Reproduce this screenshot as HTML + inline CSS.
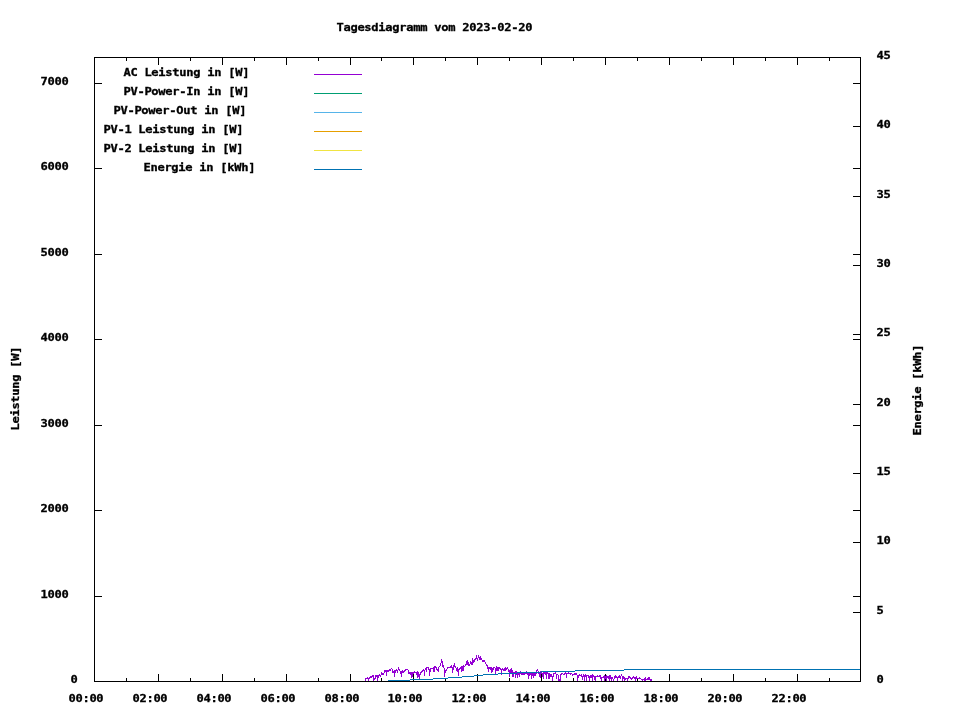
<!DOCTYPE html>
<html lang="de"><head><meta charset="utf-8"><title>Tagesdiagramm vom 2023-02-20</title>
<style>
html,body{margin:0;padding:0;background:#fff;}
svg{display:block;width:960px;height:720px;}
text{font-family:"DejaVu Sans Mono", "Liberation Mono", monospace;font-weight:bold;font-size:11.0px;letter-spacing:-0.255px;fill:#000;stroke:#000;stroke-width:0.3px;white-space:pre;}
</style></head><body>
<svg width="960" height="720" viewBox="0 0 960 720">
<rect x="0" y="0" width="960" height="720" fill="#fff"/>
<g shape-rendering="crispEdges">
<rect x="94" y="57" width="767" height="1" fill="#000"/>
<rect x="94" y="681" width="767" height="1" fill="#000"/>
<rect x="94" y="57" width="1" height="625" fill="#000"/>
<rect x="860" y="57" width="1" height="625" fill="#000"/>
<rect x="126" y="678" width="1" height="4" fill="#000"/>
<rect x="126" y="57" width="1" height="4" fill="#000"/>
<rect x="158" y="674" width="1" height="8" fill="#000"/>
<rect x="158" y="57" width="1" height="8" fill="#000"/>
<rect x="190" y="678" width="1" height="4" fill="#000"/>
<rect x="190" y="57" width="1" height="4" fill="#000"/>
<rect x="222" y="674" width="1" height="8" fill="#000"/>
<rect x="222" y="57" width="1" height="8" fill="#000"/>
<rect x="254" y="678" width="1" height="4" fill="#000"/>
<rect x="254" y="57" width="1" height="4" fill="#000"/>
<rect x="286" y="674" width="1" height="8" fill="#000"/>
<rect x="286" y="57" width="1" height="8" fill="#000"/>
<rect x="318" y="678" width="1" height="4" fill="#000"/>
<rect x="318" y="57" width="1" height="4" fill="#000"/>
<rect x="350" y="674" width="1" height="8" fill="#000"/>
<rect x="350" y="57" width="1" height="8" fill="#000"/>
<rect x="381" y="678" width="1" height="4" fill="#000"/>
<rect x="381" y="57" width="1" height="4" fill="#000"/>
<rect x="413" y="674" width="1" height="8" fill="#000"/>
<rect x="413" y="57" width="1" height="8" fill="#000"/>
<rect x="445" y="678" width="1" height="4" fill="#000"/>
<rect x="445" y="57" width="1" height="4" fill="#000"/>
<rect x="477" y="674" width="1" height="8" fill="#000"/>
<rect x="477" y="57" width="1" height="8" fill="#000"/>
<rect x="509" y="678" width="1" height="4" fill="#000"/>
<rect x="509" y="57" width="1" height="4" fill="#000"/>
<rect x="541" y="674" width="1" height="8" fill="#000"/>
<rect x="541" y="57" width="1" height="8" fill="#000"/>
<rect x="573" y="678" width="1" height="4" fill="#000"/>
<rect x="573" y="57" width="1" height="4" fill="#000"/>
<rect x="605" y="674" width="1" height="8" fill="#000"/>
<rect x="605" y="57" width="1" height="8" fill="#000"/>
<rect x="637" y="678" width="1" height="4" fill="#000"/>
<rect x="637" y="57" width="1" height="4" fill="#000"/>
<rect x="669" y="674" width="1" height="8" fill="#000"/>
<rect x="669" y="57" width="1" height="8" fill="#000"/>
<rect x="701" y="678" width="1" height="4" fill="#000"/>
<rect x="701" y="57" width="1" height="4" fill="#000"/>
<rect x="733" y="674" width="1" height="8" fill="#000"/>
<rect x="733" y="57" width="1" height="8" fill="#000"/>
<rect x="765" y="678" width="1" height="4" fill="#000"/>
<rect x="765" y="57" width="1" height="4" fill="#000"/>
<rect x="797" y="674" width="1" height="8" fill="#000"/>
<rect x="797" y="57" width="1" height="8" fill="#000"/>
<rect x="829" y="678" width="1" height="4" fill="#000"/>
<rect x="829" y="57" width="1" height="4" fill="#000"/>
<rect x="94" y="681" width="8" height="1" fill="#000"/>
<rect x="853" y="681" width="8" height="1" fill="#000"/>
<rect x="94" y="596" width="8" height="1" fill="#000"/>
<rect x="853" y="596" width="8" height="1" fill="#000"/>
<rect x="94" y="510" width="8" height="1" fill="#000"/>
<rect x="853" y="510" width="8" height="1" fill="#000"/>
<rect x="94" y="425" width="8" height="1" fill="#000"/>
<rect x="853" y="425" width="8" height="1" fill="#000"/>
<rect x="94" y="339" width="8" height="1" fill="#000"/>
<rect x="853" y="339" width="8" height="1" fill="#000"/>
<rect x="94" y="254" width="8" height="1" fill="#000"/>
<rect x="853" y="254" width="8" height="1" fill="#000"/>
<rect x="94" y="168" width="8" height="1" fill="#000"/>
<rect x="853" y="168" width="8" height="1" fill="#000"/>
<rect x="94" y="83" width="8" height="1" fill="#000"/>
<rect x="853" y="83" width="8" height="1" fill="#000"/>
<rect x="853" y="681" width="8" height="1" fill="#000"/>
<rect x="853" y="612" width="8" height="1" fill="#000"/>
<rect x="853" y="542" width="8" height="1" fill="#000"/>
<rect x="853" y="473" width="8" height="1" fill="#000"/>
<rect x="853" y="404" width="8" height="1" fill="#000"/>
<rect x="853" y="334" width="8" height="1" fill="#000"/>
<rect x="853" y="265" width="8" height="1" fill="#000"/>
<rect x="853" y="196" width="8" height="1" fill="#000"/>
<rect x="853" y="126" width="8" height="1" fill="#000"/>
<rect x="853" y="57" width="8" height="1" fill="#000"/>
<rect x="314" y="74" width="48" height="1" fill="#9400d3"/>
<rect x="314" y="93" width="48" height="1" fill="#009e73"/>
<rect x="314" y="112" width="48" height="1" fill="#56b4e9"/>
<rect x="314" y="131" width="48" height="1" fill="#e69f00"/>
<rect x="314" y="150" width="48" height="1" fill="#f0e442"/>
<rect x="314" y="169" width="48" height="1" fill="#0072b2"/>
</g>
<g shape-rendering="crispEdges" fill="#9400d3">
<rect x="365" y="678" width="1" height="3"/>
<rect x="366" y="678" width="1" height="1"/>
<rect x="367" y="677" width="1" height="2"/>
<rect x="368" y="678" width="1" height="3"/>
<rect x="369" y="677" width="1" height="2"/>
<rect x="370" y="676" width="1" height="2"/>
<rect x="371" y="676" width="1" height="2"/>
<rect x="372" y="675" width="1" height="2"/>
<rect x="373" y="675" width="1" height="6"/>
<rect x="374" y="678" width="1" height="2"/>
<rect x="375" y="675" width="1" height="4"/>
<rect x="376" y="675" width="1" height="2"/>
<rect x="377" y="675" width="1" height="6"/>
<rect x="378" y="675" width="1" height="3"/>
<rect x="379" y="674" width="1" height="2"/>
<rect x="380" y="675" width="1" height="2"/>
<rect x="381" y="672" width="1" height="3"/>
<rect x="382" y="673" width="1" height="2"/>
<rect x="383" y="673" width="1" height="2"/>
<rect x="384" y="670" width="1" height="3"/>
<rect x="385" y="670" width="1" height="2"/>
<rect x="386" y="670" width="1" height="6"/>
<rect x="387" y="670" width="1" height="2"/>
<rect x="388" y="670" width="1" height="2"/>
<rect x="389" y="669" width="1" height="2"/>
<rect x="390" y="669" width="1" height="2"/>
<rect x="391" y="668" width="1" height="1"/>
<rect x="392" y="669" width="1" height="4"/>
<rect x="393" y="671" width="1" height="2"/>
<rect x="394" y="670" width="1" height="7"/>
<rect x="395" y="670" width="1" height="3"/>
<rect x="396" y="669" width="1" height="2"/>
<rect x="397" y="670" width="1" height="3"/>
<rect x="398" y="667" width="1" height="3"/>
<rect x="399" y="669" width="1" height="2"/>
<rect x="400" y="671" width="1" height="3"/>
<rect x="401" y="671" width="1" height="6"/>
<rect x="402" y="670" width="1" height="3"/>
<rect x="403" y="671" width="1" height="2"/>
<rect x="404" y="670" width="1" height="2"/>
<rect x="405" y="669" width="1" height="2"/>
<rect x="406" y="669" width="1" height="1"/>
<rect x="407" y="669" width="1" height="1"/>
<rect x="408" y="670" width="1" height="4"/>
<rect x="409" y="672" width="1" height="2"/>
<rect x="410" y="672" width="1" height="3"/>
<rect x="411" y="672" width="1" height="6"/>
<rect x="412" y="672" width="1" height="5"/>
<rect x="413" y="672" width="1" height="2"/>
<rect x="414" y="671" width="1" height="2"/>
<rect x="415" y="672" width="1" height="1"/>
<rect x="416" y="672" width="1" height="3"/>
<rect x="417" y="671" width="1" height="7"/>
<rect x="418" y="672" width="1" height="5"/>
<rect x="419" y="674" width="1" height="5"/>
<rect x="420" y="672" width="1" height="3"/>
<rect x="421" y="671" width="1" height="2"/>
<rect x="422" y="670" width="1" height="2"/>
<rect x="423" y="669" width="1" height="2"/>
<rect x="424" y="670" width="1" height="6"/>
<rect x="425" y="668" width="1" height="2"/>
<rect x="426" y="667" width="1" height="5"/>
<rect x="427" y="667" width="1" height="1"/>
<rect x="428" y="667" width="1" height="3"/>
<rect x="429" y="669" width="1" height="7"/>
<rect x="430" y="668" width="1" height="4"/>
<rect x="431" y="668" width="1" height="1"/>
<rect x="432" y="668" width="1" height="1"/>
<rect x="433" y="667" width="1" height="5"/>
<rect x="434" y="666" width="1" height="6"/>
<rect x="435" y="666" width="1" height="2"/>
<rect x="436" y="667" width="1" height="3"/>
<rect x="437" y="669" width="1" height="2"/>
<rect x="438" y="667" width="1" height="5"/>
<rect x="439" y="666" width="1" height="1"/>
<rect x="440" y="663" width="1" height="3"/>
<rect x="441" y="659" width="1" height="4"/>
<rect x="442" y="661" width="1" height="6"/>
<rect x="443" y="665" width="1" height="3"/>
<rect x="444" y="668" width="1" height="9"/>
<rect x="445" y="670" width="1" height="3"/>
<rect x="446" y="669" width="1" height="2"/>
<rect x="447" y="667" width="1" height="2"/>
<rect x="448" y="667" width="1" height="1"/>
<rect x="449" y="667" width="1" height="1"/>
<rect x="450" y="666" width="1" height="2"/>
<rect x="451" y="665" width="1" height="3"/>
<rect x="452" y="667" width="1" height="6"/>
<rect x="453" y="665" width="1" height="5"/>
<rect x="454" y="663" width="1" height="4"/>
<rect x="455" y="666" width="1" height="2"/>
<rect x="456" y="668" width="1" height="3"/>
<rect x="457" y="667" width="1" height="5"/>
<rect x="458" y="669" width="1" height="7"/>
<rect x="459" y="668" width="1" height="2"/>
<rect x="460" y="667" width="1" height="2"/>
<rect x="461" y="666" width="1" height="6"/>
<rect x="462" y="666" width="1" height="5"/>
<rect x="463" y="665" width="1" height="6"/>
<rect x="464" y="666" width="1" height="1"/>
<rect x="465" y="664" width="1" height="2"/>
<rect x="466" y="661" width="1" height="4"/>
<rect x="467" y="660" width="1" height="5"/>
<rect x="468" y="662" width="1" height="4"/>
<rect x="469" y="664" width="1" height="2"/>
<rect x="470" y="661" width="1" height="3"/>
<rect x="471" y="662" width="1" height="3"/>
<rect x="472" y="658" width="1" height="7"/>
<rect x="473" y="660" width="1" height="3"/>
<rect x="474" y="659" width="1" height="3"/>
<rect x="475" y="658" width="1" height="2"/>
<rect x="476" y="655" width="1" height="4"/>
<rect x="477" y="658" width="1" height="3"/>
<rect x="478" y="655" width="1" height="3"/>
<rect x="479" y="657" width="1" height="3"/>
<rect x="480" y="656" width="1" height="4"/>
<rect x="481" y="658" width="1" height="2"/>
<rect x="482" y="660" width="1" height="2"/>
<rect x="483" y="660" width="1" height="2"/>
<rect x="484" y="660" width="1" height="2"/>
<rect x="485" y="662" width="1" height="2"/>
<rect x="486" y="664" width="1" height="2"/>
<rect x="487" y="665" width="1" height="4"/>
<rect x="488" y="667" width="1" height="5"/>
<rect x="489" y="667" width="1" height="2"/>
<rect x="490" y="667" width="1" height="3"/>
<rect x="491" y="667" width="1" height="6"/>
<rect x="492" y="668" width="1" height="4"/>
<rect x="493" y="667" width="1" height="3"/>
<rect x="494" y="667" width="1" height="1"/>
<rect x="495" y="668" width="1" height="6"/>
<rect x="496" y="666" width="1" height="5"/>
<rect x="497" y="667" width="1" height="4"/>
<rect x="498" y="667" width="1" height="4"/>
<rect x="499" y="667" width="1" height="2"/>
<rect x="500" y="668" width="1" height="2"/>
<rect x="501" y="669" width="1" height="6"/>
<rect x="502" y="668" width="1" height="2"/>
<rect x="503" y="669" width="1" height="2"/>
<rect x="504" y="668" width="1" height="3"/>
<rect x="505" y="667" width="1" height="4"/>
<rect x="506" y="668" width="1" height="2"/>
<rect x="507" y="667" width="1" height="2"/>
<rect x="508" y="669" width="1" height="3"/>
<rect x="509" y="670" width="1" height="7"/>
<rect x="510" y="669" width="1" height="4"/>
<rect x="511" y="668" width="1" height="5"/>
<rect x="512" y="670" width="1" height="7"/>
<rect x="513" y="672" width="1" height="5"/>
<rect x="514" y="672" width="1" height="2"/>
<rect x="515" y="671" width="1" height="7"/>
<rect x="516" y="671" width="1" height="4"/>
<rect x="517" y="673" width="1" height="5"/>
<rect x="518" y="673" width="1" height="2"/>
<rect x="519" y="673" width="1" height="4"/>
<rect x="520" y="671" width="1" height="3"/>
<rect x="521" y="673" width="1" height="2"/>
<rect x="522" y="672" width="1" height="3"/>
<rect x="523" y="672" width="1" height="3"/>
<rect x="524" y="673" width="1" height="2"/>
<rect x="525" y="673" width="1" height="1"/>
<rect x="526" y="671" width="1" height="3"/>
<rect x="527" y="673" width="1" height="2"/>
<rect x="528" y="673" width="1" height="6"/>
<rect x="529" y="673" width="1" height="3"/>
<rect x="530" y="673" width="1" height="2"/>
<rect x="531" y="673" width="1" height="6"/>
<rect x="532" y="673" width="1" height="3"/>
<rect x="533" y="673" width="1" height="5"/>
<rect x="534" y="673" width="1" height="3"/>
<rect x="535" y="673" width="1" height="3"/>
<rect x="536" y="670" width="1" height="4"/>
<rect x="537" y="669" width="1" height="2"/>
<rect x="538" y="671" width="1" height="3"/>
<rect x="539" y="673" width="1" height="4"/>
<rect x="540" y="671" width="1" height="7"/>
<rect x="541" y="672" width="1" height="2"/>
<rect x="542" y="673" width="1" height="4"/>
<rect x="543" y="672" width="1" height="7"/>
<rect x="544" y="672" width="1" height="2"/>
<rect x="545" y="672" width="1" height="3"/>
<rect x="546" y="672" width="1" height="7"/>
<rect x="547" y="672" width="1" height="2"/>
<rect x="548" y="673" width="1" height="6"/>
<rect x="549" y="673" width="1" height="6"/>
<rect x="550" y="674" width="1" height="3"/>
<rect x="551" y="674" width="1" height="3"/>
<rect x="552" y="676" width="1" height="5"/>
<rect x="553" y="673" width="1" height="4"/>
<rect x="554" y="673" width="1" height="1"/>
<rect x="555" y="672" width="1" height="2"/>
<rect x="556" y="674" width="1" height="5"/>
<rect x="557" y="674" width="1" height="1"/>
<rect x="558" y="675" width="1" height="6"/>
<rect x="559" y="679" width="1" height="2"/>
<rect x="560" y="674" width="1" height="7"/>
<rect x="561" y="673" width="1" height="2"/>
<rect x="562" y="673" width="1" height="1"/>
<rect x="563" y="674" width="1" height="1"/>
<rect x="564" y="673" width="1" height="2"/>
<rect x="565" y="672" width="1" height="2"/>
<rect x="566" y="673" width="1" height="5"/>
<rect x="567" y="673" width="1" height="1"/>
<rect x="568" y="672" width="1" height="2"/>
<rect x="569" y="673" width="1" height="1"/>
<rect x="570" y="673" width="1" height="2"/>
<rect x="571" y="673" width="1" height="1"/>
<rect x="572" y="674" width="1" height="2"/>
<rect x="573" y="674" width="1" height="1"/>
<rect x="574" y="673" width="1" height="2"/>
<rect x="575" y="673" width="1" height="2"/>
<rect x="576" y="673" width="1" height="2"/>
<rect x="577" y="675" width="1" height="6"/>
<rect x="578" y="675" width="1" height="3"/>
<rect x="579" y="674" width="1" height="2"/>
<rect x="580" y="675" width="1" height="1"/>
<rect x="581" y="674" width="1" height="3"/>
<rect x="582" y="676" width="1" height="4"/>
<rect x="583" y="674" width="1" height="3"/>
<rect x="584" y="675" width="1" height="6"/>
<rect x="585" y="674" width="1" height="3"/>
<rect x="586" y="675" width="1" height="6"/>
<rect x="587" y="675" width="1" height="1"/>
<rect x="588" y="675" width="1" height="3"/>
<rect x="589" y="676" width="1" height="5"/>
<rect x="590" y="675" width="1" height="3"/>
<rect x="591" y="675" width="1" height="3"/>
<rect x="592" y="674" width="1" height="7"/>
<rect x="593" y="675" width="1" height="2"/>
<rect x="594" y="676" width="1" height="4"/>
<rect x="595" y="676" width="1" height="5"/>
<rect x="596" y="676" width="1" height="1"/>
<rect x="597" y="675" width="1" height="2"/>
<rect x="598" y="676" width="1" height="1"/>
<rect x="599" y="675" width="1" height="2"/>
<rect x="600" y="675" width="1" height="4"/>
<rect x="601" y="677" width="1" height="4"/>
<rect x="602" y="677" width="1" height="1"/>
<rect x="603" y="676" width="1" height="2"/>
<rect x="604" y="675" width="1" height="6"/>
<rect x="605" y="676" width="1" height="3"/>
<rect x="606" y="675" width="1" height="6"/>
<rect x="607" y="676" width="1" height="2"/>
<rect x="608" y="676" width="1" height="3"/>
<rect x="609" y="675" width="1" height="6"/>
<rect x="610" y="675" width="1" height="4"/>
<rect x="611" y="677" width="1" height="4"/>
<rect x="612" y="677" width="1" height="2"/>
<rect x="613" y="679" width="1" height="2"/>
<rect x="614" y="676" width="1" height="3"/>
<rect x="615" y="675" width="1" height="3"/>
<rect x="616" y="676" width="1" height="2"/>
<rect x="617" y="677" width="1" height="4"/>
<rect x="618" y="676" width="1" height="2"/>
<rect x="619" y="675" width="1" height="3"/>
<rect x="620" y="676" width="1" height="3"/>
<rect x="621" y="674" width="1" height="2"/>
<rect x="622" y="676" width="1" height="5"/>
<rect x="623" y="676" width="1" height="3"/>
<rect x="624" y="677" width="1" height="4"/>
<rect x="625" y="678" width="1" height="2"/>
<rect x="626" y="678" width="1" height="1"/>
<rect x="627" y="678" width="1" height="3"/>
<rect x="628" y="676" width="1" height="3"/>
<rect x="629" y="676" width="1" height="2"/>
<rect x="630" y="677" width="1" height="2"/>
<rect x="631" y="678" width="1" height="2"/>
<rect x="632" y="677" width="1" height="2"/>
<rect x="633" y="676" width="1" height="2"/>
<rect x="634" y="677" width="1" height="2"/>
<rect x="635" y="677" width="1" height="4"/>
<rect x="636" y="676" width="1" height="3"/>
<rect x="637" y="678" width="1" height="1"/>
<rect x="638" y="678" width="1" height="1"/>
<rect x="639" y="677" width="1" height="2"/>
<rect x="640" y="678" width="1" height="1"/>
<rect x="641" y="679" width="1" height="1"/>
<rect x="642" y="679" width="1" height="2"/>
<rect x="643" y="679" width="1" height="1"/>
<rect x="644" y="678" width="1" height="3"/>
<rect x="645" y="677" width="1" height="4"/>
<rect x="646" y="679" width="1" height="1"/>
<rect x="647" y="678" width="1" height="2"/>
<rect x="648" y="677" width="1" height="3"/>
<rect x="649" y="677" width="1" height="3"/>
<rect x="650" y="679" width="1" height="2"/>
<rect x="651" y="679" width="1" height="2"/>
</g>
<g shape-rendering="crispEdges">
<rect x="388" y="680" width="22" height="1" fill="#0072b2"/>
<rect x="410" y="679" width="23" height="1" fill="#0072b2"/>
<rect x="433" y="678" width="15" height="1" fill="#0072b2"/>
<rect x="448" y="677" width="14" height="1" fill="#0072b2"/>
<rect x="462" y="676" width="12" height="1" fill="#0072b2"/>
<rect x="474" y="675" width="9" height="1" fill="#0072b2"/>
<rect x="483" y="674" width="15" height="1" fill="#0072b2"/>
<rect x="498" y="673" width="19" height="1" fill="#0072b2"/>
<rect x="517" y="672" width="24" height="1" fill="#0072b2"/>
<rect x="541" y="671" width="34" height="1" fill="#0072b2"/>
<rect x="575" y="670" width="49" height="1" fill="#0072b2"/>
<rect x="624" y="669" width="236" height="1" fill="#0072b2"/>
</g>
<g shape-rendering="crispEdges">
<rect x="94" y="681" width="767" height="1" fill="#000"/>
</g>
<g>
<text transform="translate(336.4,31) scale(1.0994,1)">Tagesdiagramm vom 2023-02-20</text>
<text transform="translate(123.4,76) scale(1.0994,1)">AC Leistung in [W]</text>
<text transform="translate(123.4,95) scale(1.0994,1)">PV-Power-In in [W]</text>
<text transform="translate(113.4,114) scale(1.0994,1)">PV-Power-Out in [W]</text>
<text transform="translate(103.4,133) scale(1.0994,1)">PV-1 Leistung in [W]</text>
<text transform="translate(103.4,152) scale(1.0994,1)">PV-2 Leistung in [W]</text>
<text transform="translate(143.4,171) scale(1.0994,1)">Energie in [kWh]</text>
<text transform="translate(70.4,683) scale(1.0994,1)">0</text>
<text transform="translate(40.4,598) scale(1.0994,1)">1000</text>
<text transform="translate(40.4,512) scale(1.0994,1)">2000</text>
<text transform="translate(40.4,427) scale(1.0994,1)">3000</text>
<text transform="translate(40.4,341) scale(1.0994,1)">4000</text>
<text transform="translate(40.4,256) scale(1.0994,1)">5000</text>
<text transform="translate(40.4,170) scale(1.0994,1)">6000</text>
<text transform="translate(40.4,85) scale(1.0994,1)">7000</text>
<text transform="translate(876.4,683) scale(1.0994,1)">0</text>
<text transform="translate(876.4,614) scale(1.0994,1)">5</text>
<text transform="translate(876.4,544) scale(1.0994,1)">10</text>
<text transform="translate(876.4,475) scale(1.0994,1)">15</text>
<text transform="translate(876.4,406) scale(1.0994,1)">20</text>
<text transform="translate(876.4,336) scale(1.0994,1)">25</text>
<text transform="translate(876.4,267) scale(1.0994,1)">30</text>
<text transform="translate(876.4,198) scale(1.0994,1)">35</text>
<text transform="translate(876.4,128) scale(1.0994,1)">40</text>
<text transform="translate(876.4,59) scale(1.0994,1)">45</text>
<text transform="translate(68.4,702) scale(1.0994,1)">00:00</text>
<text transform="translate(132.4,702) scale(1.0994,1)">02:00</text>
<text transform="translate(196.4,702) scale(1.0994,1)">04:00</text>
<text transform="translate(260.4,702) scale(1.0994,1)">06:00</text>
<text transform="translate(324.4,702) scale(1.0994,1)">08:00</text>
<text transform="translate(387.4,702) scale(1.0994,1)">10:00</text>
<text transform="translate(451.4,702) scale(1.0994,1)">12:00</text>
<text transform="translate(515.4,702) scale(1.0994,1)">14:00</text>
<text transform="translate(579.4,702) scale(1.0994,1)">16:00</text>
<text transform="translate(643.4,702) scale(1.0994,1)">18:00</text>
<text transform="translate(707.4,702) scale(1.0994,1)">20:00</text>
<text transform="translate(771.4,702) scale(1.0994,1)">22:00</text>
<text transform="translate(19,430.6) rotate(-90) scale(1.0994,1)">Leistung [W]</text>
<text transform="translate(921,435.6) rotate(-90) scale(1.0994,1)">Energie [kWh]</text>
</g>
</svg></body></html>
